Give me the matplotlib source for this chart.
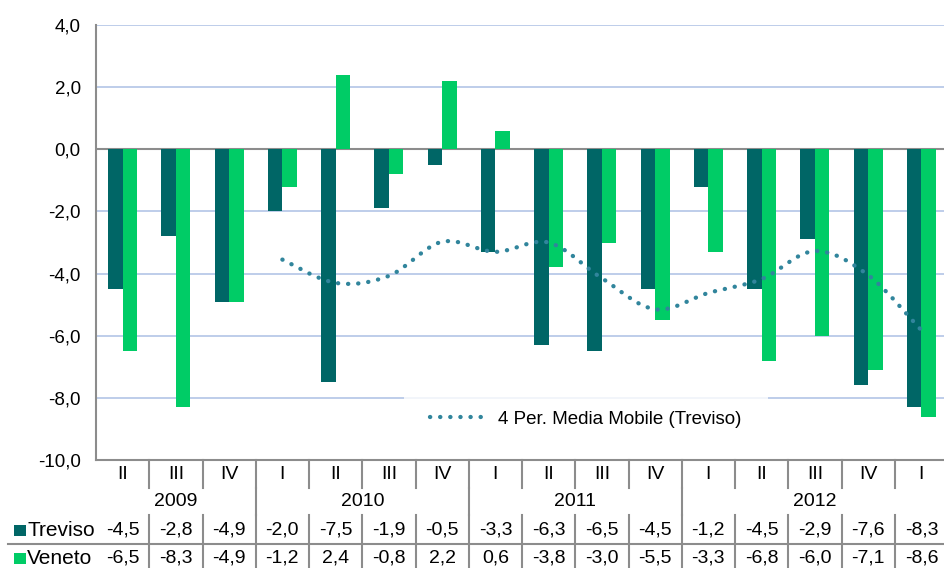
import numpy as np
import pandas as pd
import matplotlib
matplotlib.use("Agg")
import matplotlib.pyplot as plt
from matplotlib.path import Path
from matplotlib.patches import PathPatch, Rectangle
from matplotlib.lines import Line2D

plt.rcParams['font.family'] = ['Liberation Sans', 'DejaVu Sans']

quarters = ["II", "III", "IV", "I", "II", "III", "IV", "I", "II", "III", "IV",
            "I", "II", "III", "IV", "I"]
years = ["2009", "2010", "2011", "2012"]
year_spans = [(0, 2), (3, 6), (7, 10), (11, 15)]
treviso = [-4.5, -2.8, -4.9, -2.0, -7.5, -1.9, -0.5, -3.3, -6.3, -6.5, -4.5,
           -1.2, -4.5, -2.9, -7.6, -8.3]
veneto = [-6.5, -8.3, -4.9, -1.2, 2.4, -0.8, 2.2, 0.6, -3.8, -3.0, -5.5,
          -3.3, -6.8, -6.0, -7.1, -8.6]
series_names = ["Treviso", "Veneto"]
yticks = [4, 2, 0, -2, -4, -6, -8, -10]

C_TRE = "#006666"
C_VEN = "#00CC66"
C_MA = "#31859C"
C_GRID = "#B9C9E8"
C_AX = "#8C8C8C"

W, H = 944, 568
fig = plt.figure(figsize=(W / 100, H / 100), dpi=100)
left_px, right_px, top_px, bot_px = 96, 948, 25, 460
ax = fig.add_axes([left_px / W, 1 - bot_px / H, (right_px - left_px) / W,
                   (bot_px - top_px) / H])
n = len(quarters)
x = np.arange(n)
bw = 0.272
ax.bar(x - bw / 2, treviso, bw, color=C_TRE, zorder=3)
ax.bar(x + bw / 2, veneto, bw, color=C_VEN, zorder=3)
ax.set_xlim(-0.5, n - 0.5)
ax.set_ylim(-10, 4)
ax.set_yticks(yticks)
ax.set_yticklabels([f"{v:.1f}".replace(".", ",") for v in yticks], fontsize=13.5)
ax.tick_params(axis='y', length=0, pad=11)
ax.set_xticks([])
for v in yticks:
    if v not in (0, -10):
        ax.axhline(v, color=C_GRID, lw=1.3, zorder=1)
ax.axhline(0, color=C_AX, lw=1.5, zorder=2)
for s in ("top", "right"):
    ax.spines[s].set_visible(False)
for s in ("left", "bottom"):
    ax.spines[s].set_color(C_AX)
    ax.spines[s].set_linewidth(1.5)

# 4-period moving average of Treviso, smoothed (Excel-like)
ma = pd.Series(treviso).rolling(4).mean().to_numpy()
mx = x[3:].astype(float)
my = ma[3:]
pts = np.column_stack([mx, my])
verts = [pts[0]]
codes = [Path.MOVETO]
for i in range(len(pts) - 1):
    p0 = pts[i - 1] if i > 0 else pts[i]
    p1 = pts[i]
    p2 = pts[i + 1]
    p3 = pts[i + 2] if i + 2 < len(pts) else pts[i + 1]
    c1 = p1 + (p2 - p0) / 6.0
    c2 = p2 - (p3 - p1) / 6.0
    verts += [c1, c2, p2]
    codes += [Path.CURVE4] * 3
dot_style = (0, (0.05, 2.3))
patch = PathPatch(Path(verts, codes), fill=False, edgecolor=C_MA, lw=3.1,
                  linestyle=dot_style, capstyle='round', zorder=4)
ax.add_patch(patch)

handle = Line2D([], [], color=C_MA, lw=3.1, linestyle=dot_style,
                dash_capstyle='round')
leg = ax.legend([handle], ["4 Per. Media Mobile (Treviso)"], loc='center',
                bbox_to_anchor=(0.575, 0.094), frameon=True, fontsize=13.5,
                handlelength=3.1, handletextpad=0.55, borderpad=1.4,
                fancybox=False)
leg.get_frame().set_facecolor('white')
leg.get_frame().set_edgecolor('none')
leg.set_zorder(5)

# data table
tax = fig.add_axes([left_px / W, 0, (right_px - left_px) / W, (H - bot_px) / H])
tax.set_xlim(-0.5, n - 0.5)
tax.set_ylim(H - bot_px, 0)
tax.axis('off')
lkw = dict(color=C_AX, lw=1.5, clip_on=False)
row_c = [14.5, 42, 70, 98]
rows = [(0, 28), (28, 55), (55, 84), (84, 108)]
fs = 14
for i in range(n - 1):
    b = i + 0.5
    tax.plot([b, b], [rows[0][0], rows[0][1]], **lkw)
    tax.plot([b, b], [rows[2][0], rows[3][1]], **lkw)
for (a, e) in year_spans[:-1]:
    b = e + 0.5
    tax.plot([b, b], [rows[1][0], rows[1][1]], **lkw)
for i, q in enumerate(quarters):
    tax.text(i, row_c[0], q, ha='center', va='center', fontsize=fs)
    tax.text(i, row_c[2], f"{treviso[i]:.1f}".replace(".", ","), ha='center',
             va='center', fontsize=fs)
    tax.text(i, row_c[3], f"{veneto[i]:.1f}".replace(".", ","), ha='center',
             va='center', fontsize=fs)
for yname, (a, e) in zip(years, year_spans):
    tax.text((a + e) / 2, row_c[1], yname, ha='center', va='center', fontsize=fs)

# horizontal line between Treviso and Veneto rows (from near left edge)
fig.add_artist(Line2D([8 / W, 1], [1 - 544 / H, 1 - 544 / H], color=C_AX, lw=1.5))

for name, col, yc in zip(series_names, [C_TRE, C_VEN], [530, 558]):
    fig.add_artist(Rectangle((14 / W, 1 - (yc + 6) / H), 12 / W, 11 / H,
                             facecolor=col, edgecolor='none'))
    fig.text(27 / W, 1 - yc / H, name, ha='left', va='center', fontsize=15)

fig.savefig("out.png", dpi=100)
